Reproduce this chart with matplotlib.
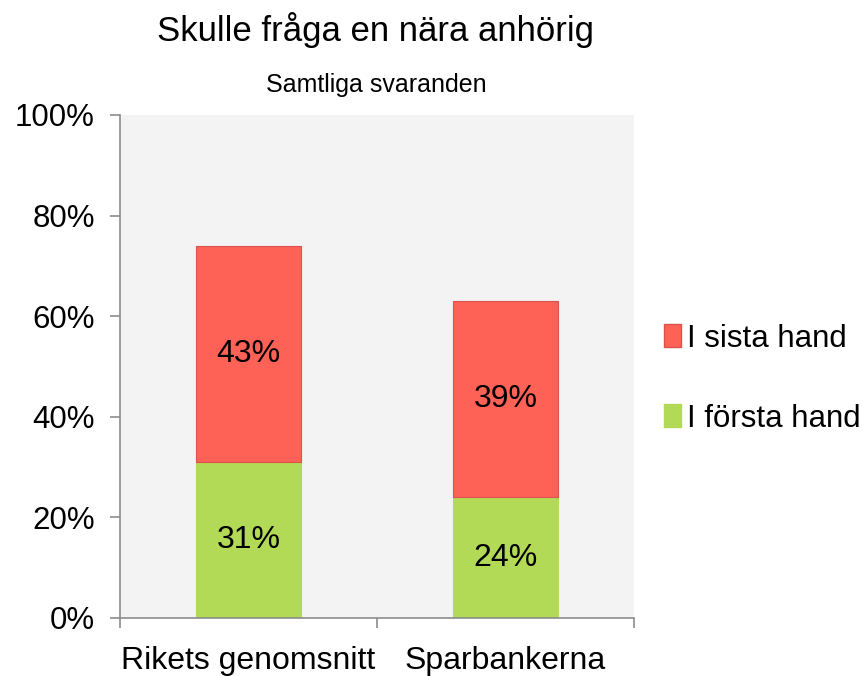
import matplotlib.pyplot as plt
from matplotlib.patches import Patch

plt.rcParams['font.family'] = ['Liberation Sans', 'DejaVu Sans']

# data
categories = ['Rikets genomsnitt', 'Sparbankerna']
forsta_hand = [31, 24]
sista_hand = [43, 39]
yticks = [0, 20, 40, 60, 80, 100]

RED = '#fe6257'
GREEN = '#b3da56'

fig = plt.figure(figsize=(8.68, 6.76), dpi=100)
ax = fig.add_axes([0.1382, 0.0858, 0.5922, 0.7441])
ax.set_facecolor('#f3f3f3')

x = range(len(categories))
ax.bar(x, forsta_hand, width=0.405, color=GREEN, edgecolor=GREEN, linewidth=0.8, zorder=2)
ax.bar(x, sista_hand, bottom=forsta_hand, width=0.405, color=RED,
       edgecolor='#d9534c', linewidth=0.8, zorder=2)

for i in x:
    ax.text(i, forsta_hand[i] / 2, f'{forsta_hand[i]}%', ha='center', va='center', fontsize=23)
    ax.text(i, forsta_hand[i] + sista_hand[i] / 2, f'{sista_hand[i]}%',
            ha='center', va='center', fontsize=23)

ax.set_xlim(-0.5, 1.5)
ax.set_ylim(0, 100)
ax.set_yticks(yticks)
ax.set_yticklabels([f'{v}%' for v in yticks], fontsize=22.5)

# category boundaries as ticks, labels in the middle
ax.set_xticks([-0.5, 0.5, 1.5])
ax.set_xticklabels([])
ax.set_xticks(list(x), minor=True)
ax.set_xticklabels(categories, minor=True, fontsize=23)
ax.tick_params(axis='x', which='minor', length=0, pad=20)
ax.tick_params(axis='x', which='major', length=7, color='#8c8c8c', width=1.2)
ax.tick_params(axis='y', length=7, color='#8c8c8c', width=1.2, pad=11)

for s in ['top', 'right']:
    ax.spines[s].set_visible(False)
for s in ['left', 'bottom']:
    ax.spines[s].set_color('#8c8c8c')
    ax.spines[s].set_linewidth(1.2)

fig.text(0.433, 0.955, 'Skulle fråga en nära anhörig', ha='center', va='center', fontsize=25)
fig.text(0.433, 0.874, 'Samtliga svaranden', ha='center', va='center', fontsize=18)

handles = [Patch(facecolor=RED, edgecolor='#d9534c'), Patch(facecolor=GREEN, edgecolor=GREEN)]
leg = fig.legend(handles, ['I sista hand', 'I första hand'], loc='center left',
                 bbox_to_anchor=(0.765, 0.44), frameon=False, fontsize=22.5,
                 handlelength=0.55, handleheight=0.75, handletextpad=0.2, labelspacing=1.6,
                 borderpad=0, borderaxespad=0)

fig.savefig('out.png', dpi=100)
